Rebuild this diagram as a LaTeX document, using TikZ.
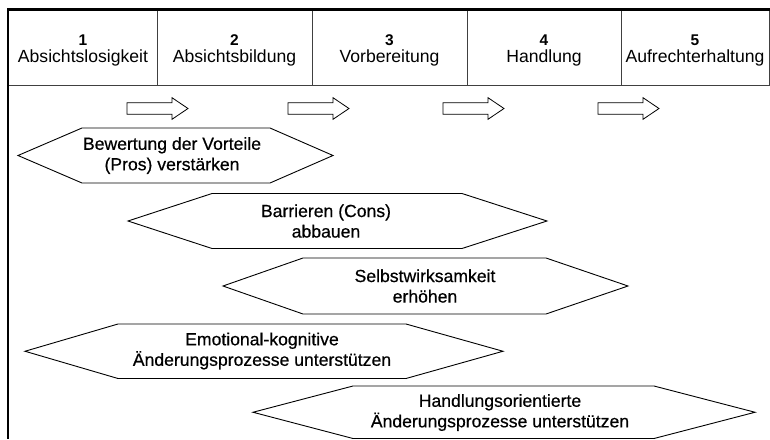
\documentclass[tikz,border=0pt]{standalone}
\usepackage{fontspec}
\setmainfont{Liberation Sans}
\newfontfamily\hexfont{Liberation Sans}[FakeBold=0.5]
\begin{document}
\begin{tikzpicture}[x=1pt,y=-1pt,
  hdrnum/.style={font=\fontsize{15.5}{18}\selectfont\bfseries, inner sep=0pt, anchor=base},
  hdrname/.style={font=\fontsize{17.6}{21}\selectfont, inner sep=0pt, anchor=base},
  hexline/.style={draw=black, line width=0.9pt, line join=miter},
  hextext/.style={font=\hexfont\fontsize{17.6}{20.5}\selectfont, align=center, inner sep=0pt},
  blockarrow/.style={draw=black, line width=0.8pt, fill=white, line join=miter},
  thinrule/.style={draw=black!75, line width=0.8pt},
]
\useasboundingbox (0,0) rectangle (770,439);

% frame
\draw[line width=2.5pt] (7.2,9.5) -- (770,9.5);
\draw[line width=2pt] (8.2,8.3) -- (8.2,439);
\draw[thinrule] (9,85) -- (770,85);
\foreach \sx in {157,312,467,621,769}
  \draw[thinrule] (\sx,10.5) -- (\sx,85);

% header texts
\node[hdrnum]  (n1) at (83,45.5)   {1};
\node[hdrname] (h1) at (83,62)     {Absichtslosigkeit};
\node[hdrnum]  (n2) at (234.5,45.5) {2};
\node[hdrname] (h2) at (234.5,62)   {Absichtsbildung};
\node[hdrnum]  (n3) at (389.5,45.5) {3};
\node[hdrname] (h3) at (389.5,62)   {Vorbereitung};
\node[hdrnum]  (n4) at (544,45.5)   {4};
\node[hdrname] (h4) at (544,62)     {Handlung};
\node[hdrnum]  (n5) at (695,45.5)   {5};
\node[hdrname] (h5) at (695,62)     {Aufrechterhaltung};

% block arrows
\foreach \ax in {127,288,443,598}
  \draw[blockarrow] (\ax,102.7) -- ++(45,0) -- ++(0,-5) -- ++(16,10.8)
     -- ++(-16,10.8) -- ++(0,-5) -- ++(-45,0) -- cycle;

% hexagons: L TL TR R top bottom
\newcommand\hexshape[6]{%
  \draw[hexline] (#1,{(#5+#6)/2}) -- (#2,#5) -- (#3,#5) -- (#4,{(#5+#6)/2})
    -- (#3,#6) -- (#2,#6) -- cycle;}

\hexshape{18}{82}{270}{333}{128}{183}
\node[hextext] (t1) at (172,155.5) {Bewertung der Vorteile\\(Pros) verstärken};

\hexshape{128}{212}{462}{547}{193.5}{248.5}
\node[hextext] (t2) at (326,221) {Barrieren (Cons)\\abbauen};

\hexshape{223}{303}{546}{628}{258}{314}
\node[hextext] (t3) at (425,286) {Selbstwirksamkeit\\erhöhen};

\hexshape{25}{118}{406}{503}{324}{378.5}
\node[hextext] (t4) at (262,351) {Emotional-kognitive\\Änderungsprozesse unterstützen};

\hexshape{253}{353}{654}{755}{386}{438.5}
\node[hextext] (t5) at (500,412.5) {Handlungsorientierte\\Änderungsprozesse unterstützen};

\end{tikzpicture}
\end{document}
